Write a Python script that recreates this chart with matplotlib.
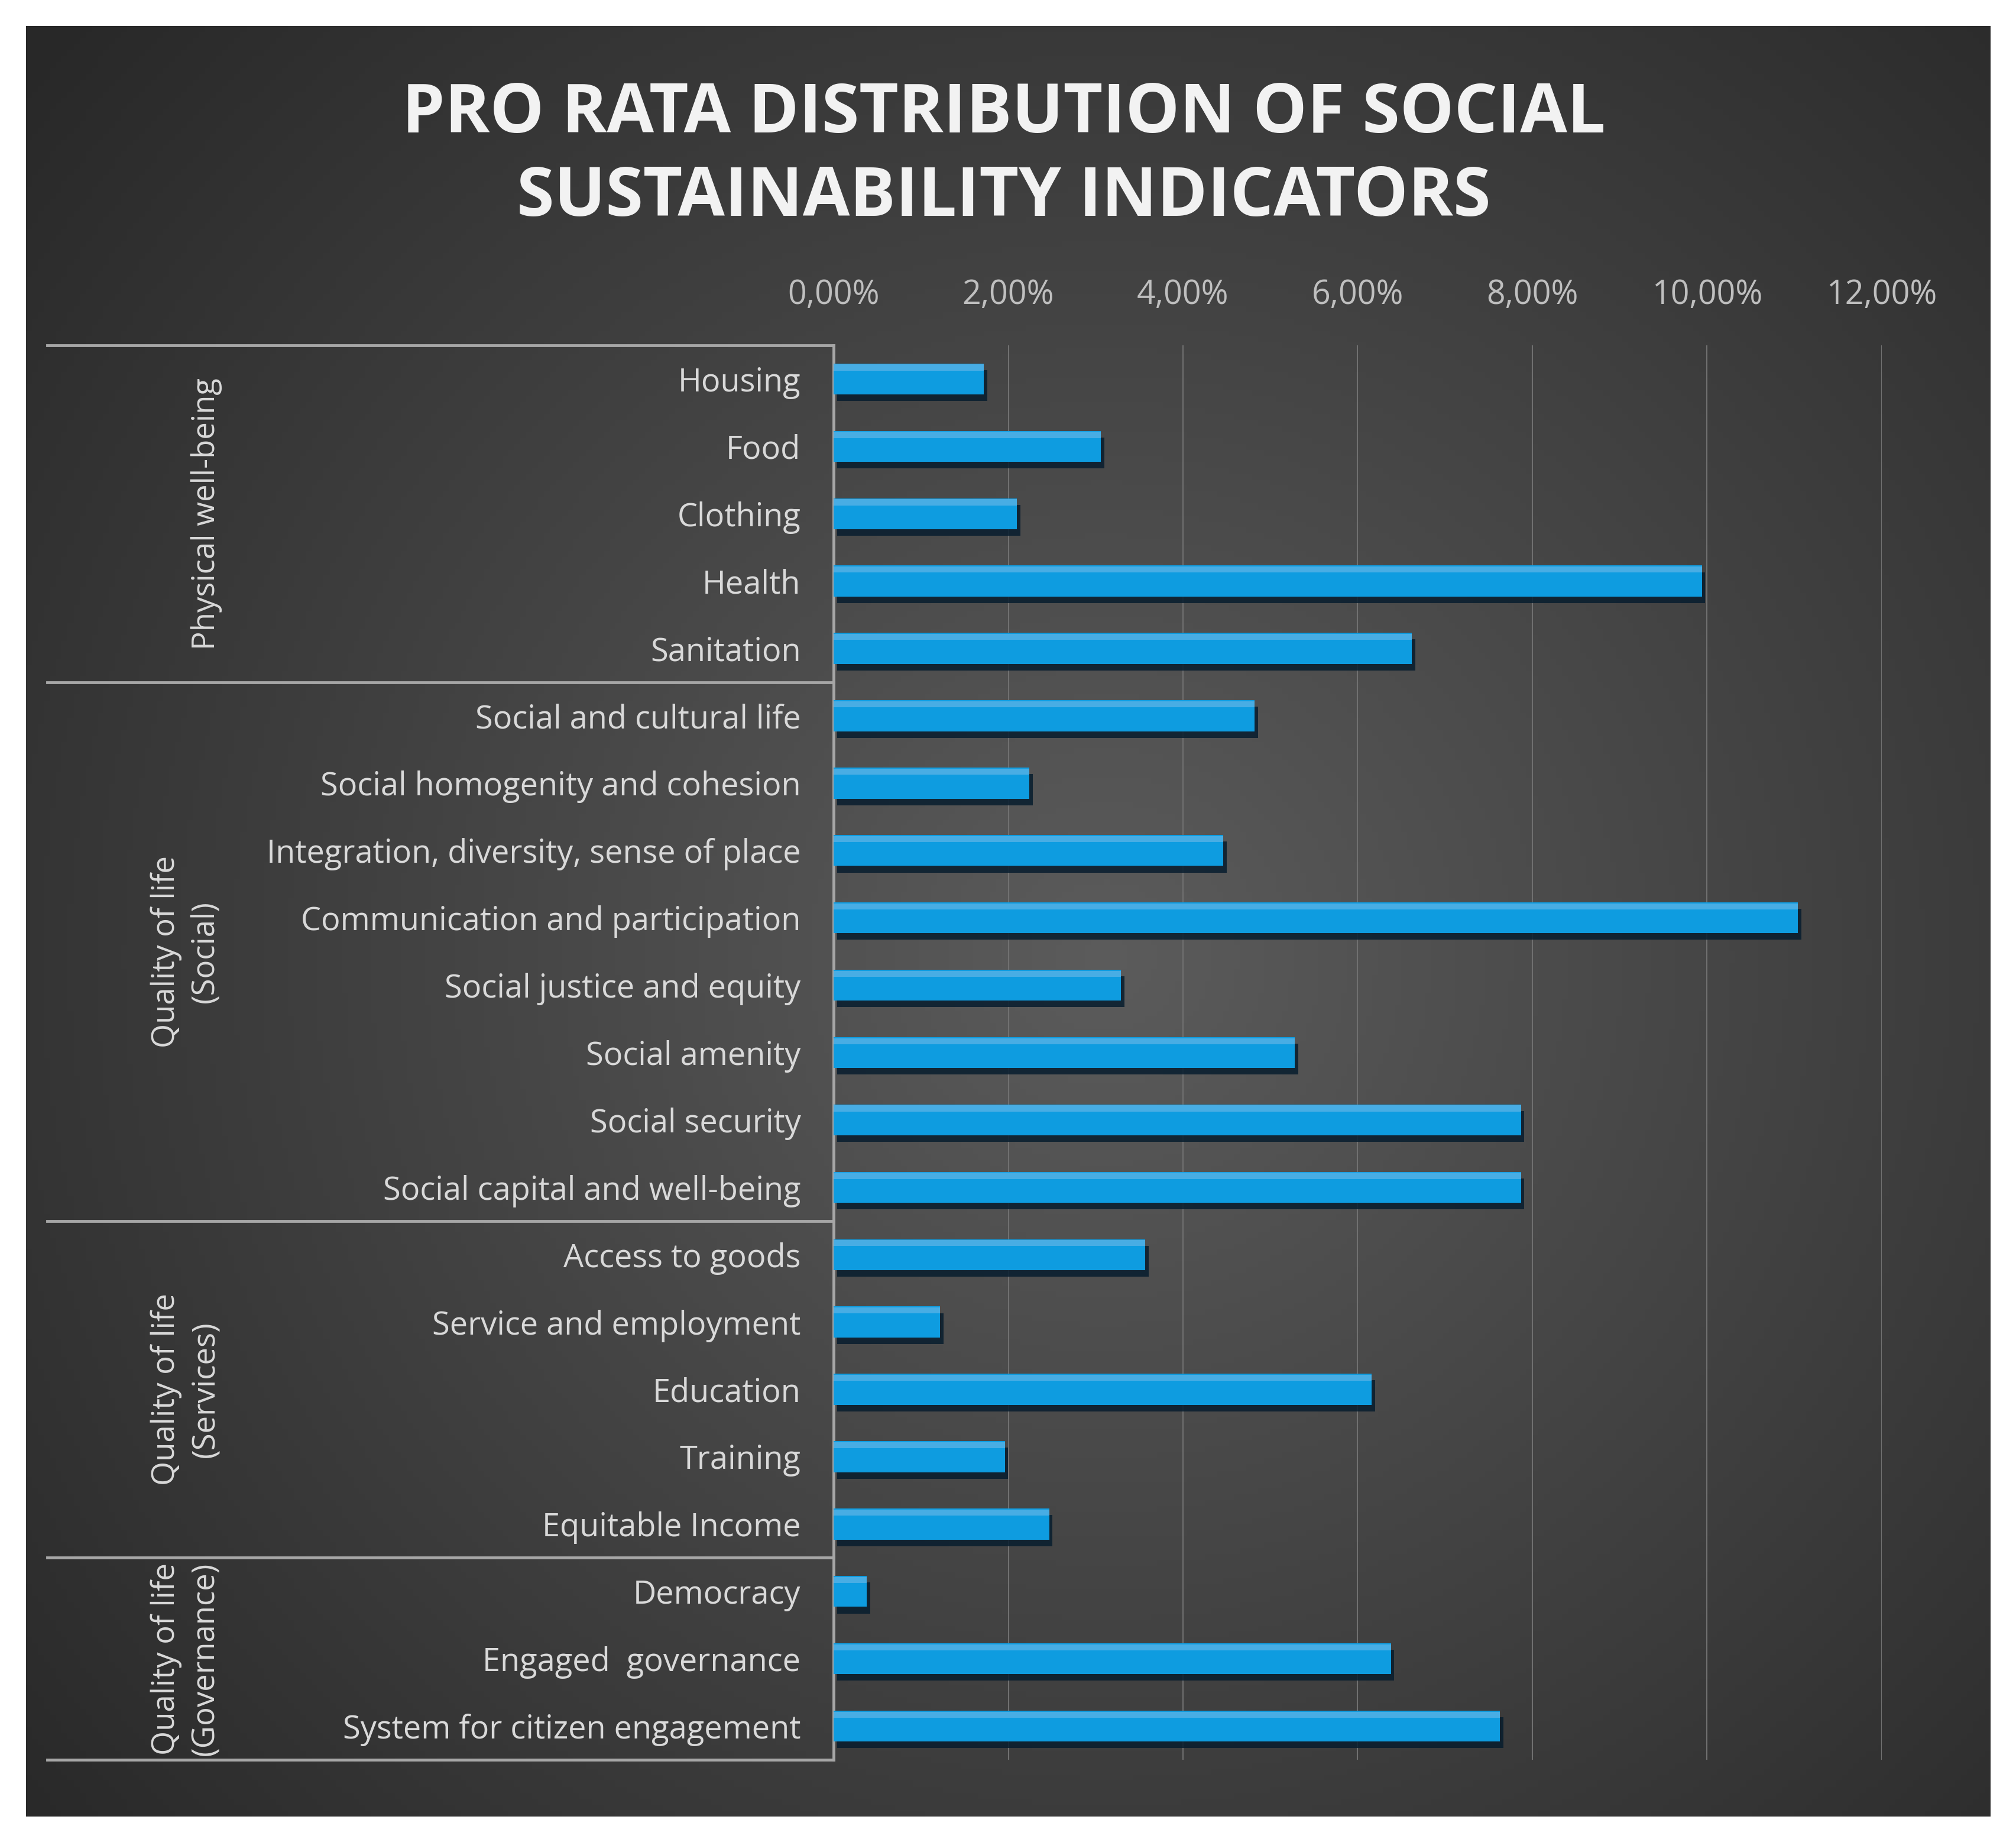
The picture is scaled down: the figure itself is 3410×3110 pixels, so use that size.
import numpy as np
import matplotlib
matplotlib.use("Agg")
import matplotlib.pyplot as plt
import matplotlib.patheffects as pe
from matplotlib.ticker import FuncFormatter

indicators = [
    "Housing", "Food", "Clothing", "Health", "Sanitation",
    "Social and cultural life", "Social homogenity and cohesion",
    "Integration, diversity, sense of place", "Communication and participation",
    "Social justice and equity", "Social amenity", "Social security",
    "Social capital and well-being",
    "Access to goods", "Service and employment", "Education", "Training",
    "Equitable Income",
    "Democracy", "Engaged  governance", "System for citizen engagement",
]
shares = [
    1.72, 3.06, 2.10, 9.94, 6.62,
    4.82, 2.24, 4.46, 11.04, 3.29, 5.28, 7.87, 7.87,
    3.57, 1.22, 6.16, 1.96, 2.47,
    0.38, 6.38, 7.63,
]
groups = ["Physical well-being", "Quality of life\n(Social)",
          "Quality of life\n(Services)", "Quality of life\n(Governance)"]
group_sizes = [5, 8, 5, 3]
x_ticks = [0, 2, 4, 6, 8, 10, 12]

font = "Open Sans"
text_col = "#d9d9d9"
line_col = "#a6a6a6"

fig = plt.figure(figsize=(34.1, 31.1), dpi=100)
fig.patch.set_facecolor("white")

# dark panel with radial gradient
bg = fig.add_axes([44 / 3410, 38 / 3110, 3322 / 3410, 3028 / 3110])
yy, xx = np.mgrid[0:1:300j, 0:1:330j]
r = np.sqrt(((xx - 0.55) / 0.75) ** 2 + ((yy - 0.52) / 0.8) ** 2)
shade = np.clip(0.36 - 0.21 * r, 0.16, 0.36)
bg.imshow(np.dstack([shade, shade, shade]), aspect="auto", extent=[0, 1, 0, 1])
bg.axis("off")

ax = fig.add_axes([1410 / 3410, 134 / 3110, 1773 / 3410, 2392 / 3110])
ax.patch.set_alpha(0)

y = np.arange(len(indicators))
bars = ax.barh(y, shares, height=0.46, color="#0e9ce0", zorder=3)
for b in bars:
    b.set_path_effects([pe.SimplePatchShadow(offset=(4, -8), shadow_rgbFace="#071d2e", alpha=0.85),
                        pe.Normal()])
# light bevel on the upper part of each bar
ax.barh(y - 0.17, shares, height=0.09, color="#5cb4e6", alpha=0.75, zorder=4)

ax.set_ylim(len(indicators) - 0.5, -0.5)
ax.set_xlim(0, 12)
ax.set_yticks(y)
ax.set_yticklabels(indicators, fontsize=39, color=text_col, family=font)
ax.tick_params(axis="y", length=0, pad=40)

ax.xaxis.tick_top()
ax.set_xticks(x_ticks)
ax.xaxis.set_major_formatter(FuncFormatter(lambda v, p: f"{v:.2f}".replace(".", ",") + "%"))
ax.tick_params(axis="x", length=0, pad=40, labelsize=40, labelcolor="#bfbfbf")
for t in ax.get_xticklabels():
    t.set_family(font)
ax.grid(axis="x", color="#707070", linewidth=1.5, zorder=0)
ax.set_axisbelow(True)

for s in ["top", "right", "bottom"]:
    ax.spines[s].set_visible(False)
ax.spines["left"].set_color(line_col)
ax.spines["left"].set_linewidth(3.5)

# multi-level category boxes and group labels
trans = ax.get_yaxis_transform()
bounds = np.concatenate([[0], np.cumsum(group_sizes)]) - 0.5
for b in bounds:
    ax.plot([-0.75, 0], [b, b], color=line_col, linewidth=3.5, transform=trans, clip_on=False)
for g, lo, hi in zip(groups, bounds[:-1], bounds[1:]):
    gx = -0.618 if "\n" in g else -0.598
    ax.text(gx, (lo + hi) / 2, g, transform=trans, rotation=90, ha="center", va="center",
            fontsize=38, color=text_col, family=font, linespacing=1.3)

fig.text(0.498, 0.9148, "PRO RATA DISTRIBUTION OF SOCIAL\nSUSTAINABILITY INDICATORS",
         ha="center", va="center", fontsize=83, fontweight="bold", color="#f2f2f2",
         family="Open Sans", linespacing=1.29)

fig.savefig("out.png", dpi=100)
